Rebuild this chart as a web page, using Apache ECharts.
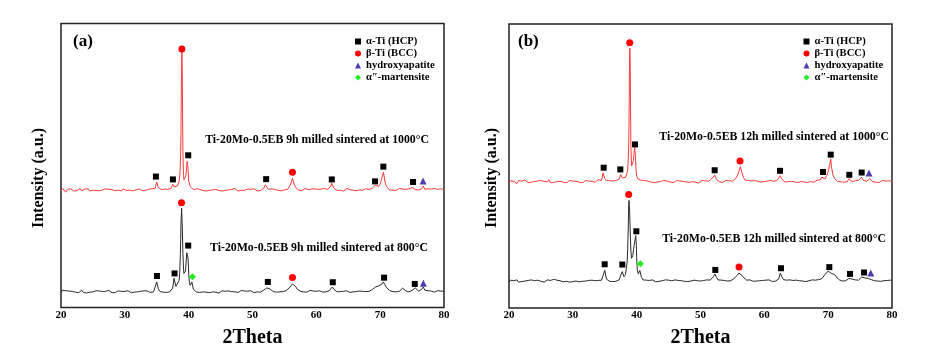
<!DOCTYPE html>
<html>
<head>
<meta charset="utf-8">
<script src="https://cdn.jsdelivr.net/npm/echarts@6.0.0/dist/echarts.min.js"></script>
<style>html,body{margin:0;padding:0;background:#fff}#c{width:929px;height:354px}</style>
</head>
<body>
<div id="c"></div>
<script>
// 2Theta grid for the scan arrays: 20 .. 80, step 0.25 deg
const scanStart = 20, scanStep = 0.25;
const xTicks = [20, 30, 40, 50, 60, 70, 80];

// (a) 9h milled, 1000 C (red) - values on the 0.25 deg grid
const a1000 = [
41.0,41.9,41.2,40.6, 41.6,41.1,41.8,41.3, 41.0,41.7,41.2,41.5, 41.9,41.1,41.4,41.7,
41.2,41.8,41.0,41.5, 41.3,41.9,41.2,41.6, 41.1,41.7,41.4,41.0, 41.8,41.3,41.6,41.2,
41.5,41.9,41.1,41.7, 41.3,41.6,41.0,41.8, 41.4,41.2,41.9,41.3, 41.6,41.1,41.7,41.4,
41.2,41.8,41.5,41.1, 41.7,41.3,41.9,41.6, 41.4,41.8,41.5,42.0, 44.2,42.2,41.6,41.5,
41.3,41.7,41.2,41.6, 41.4,42.0,43.4,42.5, 42.3,42.8,44.5,55.0, 82.0,45.0,46.0,51.5,
44.5,42.6,41.9,41.5, 41.2,41.8,41.3,41.6, 41.9,41.2,41.5,41.0, 41.7,41.3,41.8,41.4,
41.1,41.6,41.9,41.2, 41.5,41.0,41.7,41.3, 41.8,41.4,41.1,41.6, 41.2,41.9,41.5,41.0,
41.6,41.3,41.8,41.2, 41.4,41.7,41.1,41.6, 41.3,41.8,41.4,41.0, 41.7,41.2,41.6,41.9,
43.2,42.6,41.6,41.3, 41.8,41.2,41.5,41.9, 41.3,41.6,41.1,41.7, 41.4,41.9,41.6,42.2,
43.5,45.6,43.6,42.3, 41.7,41.3,41.8,41.2, 41.6,41.9,41.3,41.5, 41.1,41.7,41.4,41.8,
41.2,41.6,41.0,41.7, 41.4,41.9,41.3,41.6, 41.9,42.6,43.2,42.0, 41.5,41.2,41.8,41.3,
41.7,41.0,41.6,41.9, 41.2,41.5,41.8,41.3, 41.6,41.1,41.7,41.4, 41.9,41.3,41.5,41.8,
41.2,41.6,41.4,41.9, 42.3,43.1,42.4,42.6, 43.5,45.5,47.6,44.2, 42.5,41.8,41.4,41.7,
41.3,41.8,41.2,41.6, 41.9,41.4,41.7,41.1, 41.6,41.3,41.8,41.5, 42.2,42.3,41.5,41.8,
41.4,41.9,41.8,42.8, 41.6,41.3,41.8,41.2, 41.7,41.4,41.9,41.3, 41.6,41.1,41.8,41.4,
41.5];
// extra off-grid points on the sharp peaks of (a) 1000 C
const a1000Peaks = [[38.6,46],[38.7,50],[38.8,62],[38.85,75],[38.9,87],[38.94,90],[39.05,68],[39.1,55],[39.2,46.5],
[39.4,44.6],[39.6,47],[39.7,50],[39.8,52.2],[39.9,49],[52.1,43.8],[62.4,43.8],[70.6,46.5],[75.1,42.5]];

// (a) 9h milled, 800 C (black)
const a800 = [
5.2,6.1,5.5,5.9, 5.3,5.8,5.1,5.7, 6.0,5.4,5.8,5.2, 5.6,6.1,5.3,5.8,
5.1,5.7,5.4,6.0, 5.5,5.2,5.9,5.4, 5.8,5.3,5.6,5.0, 5.7,5.4,6.0,5.5,
5.2,5.8,5.3,5.7, 5.9,5.4,5.6,5.1, 5.7,5.3,5.9,5.5, 5.2,5.8,5.4,6.0,
5.5,5.1,5.7,5.3, 5.9,5.4,5.8,5.6, 5.3,5.7,5.5,6.2, 9.0,6.6,5.6,5.9,
5.4,5.8,5.3,5.7, 5.5,6.0,6.8,9.8, 7.4,7.0,9.5,24.0, 28.0,12.0,12.8,20.0,
12.5,7.8,9.0,6.4, 5.7,5.4,5.9,5.3, 5.8,5.5,6.0,5.4, 5.6,5.2,5.8,5.5,
6.0,5.4,5.7,5.1, 5.6,5.9,5.3,5.7, 5.4,5.8,5.2,5.6, 5.9,5.5,5.7,5.3,
5.6,6.0,5.4,5.8, 5.3,5.7,5.5,5.9, 5.6,5.2,5.8,5.5, 5.7,5.4,6.0,6.1,
6.3,6.9,7.3,6.5, 5.9,5.6,5.8,5.4, 5.7,5.5,6.0,5.6, 5.8,5.9,6.3,6.9,
7.6,8.3,8.4,7.4, 6.5,6.0,5.7,5.9, 5.5,5.8,5.4,5.7, 6.0,5.6,5.8,5.3,
5.7,5.5,5.9,5.6, 5.4,5.8,5.5,5.7, 5.9,6.0,7.2,6.4, 5.8,5.5,5.9,5.6,
5.4,5.7,5.5,5.9, 5.6,5.3,5.8,5.5, 5.9,5.6,5.4,5.8, 5.5,5.7,5.3,5.6,
5.9,5.7,6.0,6.3, 6.6,7.2,7.8,7.6, 7.5,8.2,9.0,8.0, 7.0,6.3,5.9,5.7,
5.6,5.8,5.5,5.9, 5.7,6.2,6.8,6.4, 5.9,5.7,5.5,5.8, 6.0,6.5,6.9,6.2,
5.8,6.0,6.4,7.2, 6.1,5.7,5.9,5.5, 5.8,5.6,5.4,5.7, 5.9,5.5,5.8,5.6,
5.7];
const a800Peaks = [[37.7,10.3],[38.6,12],[38.7,19],[38.8,30],[38.9,34.9],[39.1,19],[39.2,13.5],
[39.4,11.4],[39.6,16],[39.7,19.3],[39.8,20.2],[39.9,17.5],[40.1,9.0]];

// (b) 12h milled, 1000 C (red)
const b1000 = [
43.9,44.8,44.1,44.6, 44.3,43.8,44.9,44.2, 44.7,44.0,45.1,44.4, 44.1,44.8,44.3,45.0,
44.5,43.9,44.7,44.2, 44.9,44.3,44.6,44.0, 44.4,45.2,44.1,44.7, 44.2,44.8,44.5,44.0,
44.6,45.0,44.3,44.8, 44.1,44.5,44.9,44.3, 44.7,44.2,44.6,44.9, 44.3,44.8,44.1,44.5,
44.9,44.4,44.7,44.2, 44.6,45.0,44.3,44.8, 45.2,44.6,44.9,47.6, 45.6,44.8,44.5,44.9,
44.3,44.7,44.4,44.9, 44.6,45.3,47.0,45.8, 45.5,46.0,47.5,58.0, 84.0,49.5,52.0,56.2,
46.5,45.3,44.6,45.0, 44.4,44.9,44.2,44.7, 45.0,44.3,44.6,44.1, 44.8,44.4,45.1,44.5,
44.2,44.9,44.3,44.7, 45.0,44.4,44.8,44.1, 44.6,44.9,44.3,44.7, 44.1,44.6,45.0,44.4,
44.8,44.2,44.7,44.5, 44.9,44.3,44.6,44.0, 44.5,44.9,44.2,44.8, 44.3,44.6,45.0,45.5,
46.0,46.8,45.2,44.7, 44.4,44.8,44.2,44.6, 44.9,44.5,44.8,44.3, 44.7,45.1,45.6,46.5,
48.0,49.8,47.6,45.9, 45.0,44.6,44.9,44.3, 44.7,44.4,44.9,44.2, 44.6,45.0,44.3,44.8,
44.5,44.1,44.7,44.4, 44.9,44.3,44.6,44.8, 45.0,45.5,46.6,45.3, 44.7,44.3,44.8,44.5,
44.1,44.6,44.9,44.4, 44.7,44.2,44.8,44.5, 45.0,44.4,44.6,44.2, 44.8,44.5,44.9,44.3,
44.6,45.0,44.7,45.1, 46.1,45.8,45.4,46.5, 48.0,50.6,50.0,46.8, 45.6,45.0,44.6,44.9,
44.4,44.7,44.3,44.8, 44.5,45.5,44.8,44.5, 44.3,44.8,44.5,45.0, 45.4,46.0,45.0,44.8,
44.6,45.0,45.5,44.9, 44.4,44.8,44.3,44.7, 44.2,44.6,44.9,44.3, 44.7,44.4,44.8,44.2,
44.6];
const b1000Peaks = [[38.6,49],[38.7,53],[38.8,64],[38.85,78],[38.9,90],[38.94,91.5],[39.05,70],[39.1,57],[39.2,50],
[39.6,55],[39.7,56.5],[39.8,54],[39.9,49],[69.1,46.3],[70.4,52.5]];

// (b) 12h milled, 800 C (black)
const b800 = [
9.0,9.8,9.2,9.6, 9.4,9.9,9.1,9.7, 9.3,9.8,9.5,9.0, 9.7,9.2,9.9,9.4,
9.6,9.2,9.8,10.3, 9.4,9.7,9.1,9.6, 9.9,9.3,9.7,9.2, 10.1,9.5,9.8,9.3,
9.6,9.9,9.2,9.7, 9.4,9.8,9.1,9.6, 9.3,9.7,9.5,9.9, 9.2,9.6,9.4,9.8,
9.5,9.1,9.7,9.3, 9.8,9.4,9.6,9.2, 9.7,9.3,9.8,10.0, 13.3,10.2,9.6,9.4,
9.8,9.3,9.7,9.4, 9.6,9.9,11.5,12.8, 11.0,11.8,16.0,36.0, 26.0,17.8,20.5,24.0,
18.0,12.0,13.2,10.8, 9.9,9.5,9.8,9.3, 9.7,9.4,9.9,9.5, 9.2,9.8,9.4,9.7,
9.6,9.3,9.9,9.5, 9.8,9.2,9.6,9.4, 9.9,9.5,9.7,9.3, 9.6,9.8,9.4,9.9,
9.3,9.7,9.5,9.2, 9.8,9.4,9.6,9.9, 9.5,9.2,9.7,9.4, 9.9,9.6,9.8,10.3,
11.0,12.0,10.8,9.9, 9.6,9.8,9.4,9.7, 9.9,9.5,9.8,9.6, 10.0,10.4,10.9,11.5,
12.3,11.8,11.5,10.7, 10.1,9.8,9.5,9.9, 9.6,9.4,9.8,9.5, 9.9,9.6,9.3,9.7,
9.5,9.8,9.4,9.9, 9.6,9.3,9.8,9.5, 9.7,10.2,12.3,11.0, 10.0,9.6,9.8,9.4,
9.9,9.5,9.7,9.3, 9.8,9.4,9.6,9.9, 9.5,9.7,9.3,9.8, 9.6,9.4,9.9,9.5,
9.8,9.6,10.0,10.1, 10.3,10.9,11.8,12.5, 13.0,12.6,12.2,12.6, 11.8,11.0,10.4,9.9,
9.7,9.5,9.9,9.6, 9.8,10.4,10.9,10.2, 9.7,9.9,9.5,9.8, 10.2,10.9,11.3,10.6,
10.2,10.4,10.5,10.0, 9.8,9.6,9.9,9.5, 9.7,9.4,9.8,9.6, 9.3,9.7,9.5,9.8,
9.6];
const b800Peaks = [[37.75,13.2],[38.6,21],[38.7,30],[38.8,37.9],[38.9,34],[39.1,20],[39.2,17.5],
[39.4,18.5],[39.6,22],[39.85,25.5],[39.95,22],[40.1,13.5],[40.6,13.4]];

// phase markers [2Theta, intensity]
const aHCP = [[34.87,46.1],[37.53,45.1],[39.93,53.6],[52.14,45.2],[62.42,45.1],[69.2,44.4],[70.5,49.6],[75.15,44.2],
              [35.03,11.1],[37.79,12.0],[39.93,21.8],[52.4,9.0],[62.58,8.9],[70.61,10.5],[75.42,8.3]];
const aBCC = [[38.94,91.0],[56.26,47.6],[38.88,36.9],[56.26,10.6]];
const aHA  = [[76.72,44.5],[76.77,8.5]];
const aMart = [[40.6,10.8]];
const bHCP = [[34.83,49.4],[37.44,48.8],[39.74,57.6],[52.22,48.5],[62.46,48.3],[69.19,47.9],[70.4,54.0],[73.31,46.9],[75.25,47.7],
              [34.99,15.4],[37.75,15.3],[39.95,27.0],[52.32,13.4],[62.61,14.0],[70.18,14.4],[73.42,12.0],[75.62,12.5]];
const bBCC = [[38.91,93.4],[56.19,51.8],[38.75,40.0],[56.03,14.4]];
const bHA  = [[76.4,47.5],[76.67,12.3]];
const bMart = [[40.57,15.6]];

const phaseNames = ['α-Ti (HCP)', 'β-Ti (BCC)', 'hydroxyapatite', 'α″-martensite'];
const curveLabels = ['Ti-20Mo-0.5EB 9h milled sintered at 1000°C', 'Ti-20Mo-0.5EB 9h milled sintered at 800°C',
                     'Ti-20Mo-0.5EB 12h milled sintered at 1000°C', 'Ti-20Mo-0.5EB 12h milled sintered at 800°C'];
const panelLabels = ['(a)', '(b)'];
const yName = 'Intensity (a.u.)';

function scan(base, extra) {
  const pts = base.map((v, i) => [scanStart + i * scanStep, v]).concat(extra);
  pts.sort((p, q) => p[0] - q[0]);
  return pts;
}

const FONT = '"Liberation Serif", "Times New Roman", serif';
const chart = echarts.init(document.getElementById('c'), null, {renderer: 'canvas'});

function xAxis(gi) {
  return {
    gridIndex: gi, type: 'value', min: 20, max: 80, interval: 10,
    axisLine: {show: false}, axisTick: {show: false}, splitLine: {show: false},
    axisLabel: {fontFamily: FONT, fontWeight: 'bold', fontSize: 11, color: '#000', margin: 2,
      formatter: v => xTicks.includes(v) ? String(v) : ''},
    name: '2Theta', nameLocation: 'middle', nameGap: 20,
    nameTextStyle: {fontFamily: FONT, fontWeight: 'bold', fontSize: 20, color: '#000'}
  };
}
function yAxis(gi) {
  return {
    gridIndex: gi, type: 'value', min: 0, max: 100,
    axisLine: {show: false}, axisTick: {show: false}, axisLabel: {show: false}, splitLine: {show: false}
  };
}
function lineS(gi, data, color) {
  return {type: 'line', xAxisIndex: gi, yAxisIndex: gi, data: data, symbol: 'none', showSymbol: false,
    lineStyle: {color: color, width: 1}, itemStyle: {color: color}, silent: true, z: 2};
}
function markS(gi, name, data, symbol, size, color) {
  return {type: 'scatter', name: name, xAxisIndex: gi, yAxisIndex: gi, data: data, symbol: symbol,
    symbolSize: size, itemStyle: {color: color, opacity: 1}, z: 5};
}
const markerStyle = [['rect', 6, '#000'], ['circle', 7, '#ff0000'], ['triangle', 7, '#4b3cb0'], ['diamond', 7, '#22ee22']];
function legend(left, top) {
  return {
    left: left, top: top, orient: 'vertical', itemWidth: 6, itemHeight: 6, itemGap: 1, selectedMode: false, padding: 0,
    textStyle: {fontFamily: FONT, fontWeight: 'bold', fontSize: 10.6, color: '#000', lineHeight: 10},
    data: phaseNames.map((n, i) => ({name: n, icon: markerStyle[i][0]}))
  };
}

const panels = [
  {hi: scan(a1000, a1000Peaks), lo: scan(a800, a800Peaks), marks: [aHCP, aBCC, aHA, aMart]},
  {hi: scan(b1000, b1000Peaks), lo: scan(b800, b800Peaks), marks: [bHCP, bBCC, bHA, bMart]}
];
const series = [];
panels.forEach((p, gi) => {
  series.push(lineS(gi, p.hi, '#ff3a3a'));
  series.push(lineS(gi, p.lo, '#2a2a2a'));
  p.marks.forEach((m, k) => series.push(markS(gi, phaseNames[k], m, markerStyle[k][0], markerStyle[k][1], markerStyle[k][2])));
});

function txt(x, y, text, size, align, rot) {
  return {type: 'text', x: x, y: y, rotation: rot || 0, silent: true, z: 10,
    style: {text: text, font: 'bold ' + size + 'px ' + FONT, fill: '#000', align: align, verticalAlign: 'middle'}};
}

chart.setOption({
  animation: false,
  backgroundColor: '#fff',
  grid: [
    {left: 61, top: 23.5, width: 383, height: 284, show: true, borderColor: '#222', borderWidth: 1.5, backgroundColor: 'transparent'},
    {left: 509, top: 24, width: 383, height: 284, show: true, borderColor: '#222', borderWidth: 1.5, backgroundColor: 'transparent'}
  ],
  xAxis: [xAxis(0), xAxis(1)],
  yAxis: [yAxis(0), yAxis(1)],
  legend: [legend(355, 36), legend(803.5, 36)],
  series: series,
  graphic: [
    txt(73, 42, panelLabels[0], 17, 'left'),
    txt(518, 42, panelLabels[1], 17, 'left'),
    txt(429, 140, curveLabels[0], 11.8, 'right'),
    txt(428, 248, curveLabels[1], 11.8, 'right'),
    txt(889, 137, curveLabels[2], 11.8, 'right'),
    txt(886, 239, curveLabels[3], 11.8, 'right'),
    txt(38.5, 178, yName, 16, 'center', Math.PI / 2),
    txt(491.5, 178, yName, 16, 'center', Math.PI / 2)
  ]
});
</script>
</body>
</html>
